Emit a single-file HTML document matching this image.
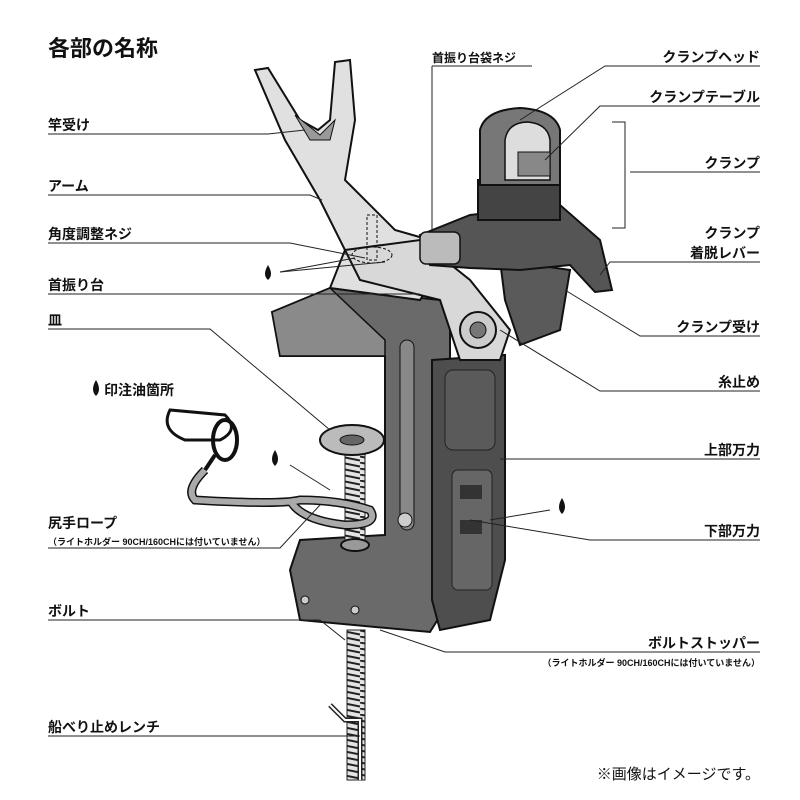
<!DOCTYPE html>
<html><head><meta charset="utf-8"><style>
body{margin:0;background:#fff;}
svg{display:block;}
text{font-family:"Liberation Sans","Noto Sans CJK JP",sans-serif;font-weight:bold;fill:#111;}
.l{font-size:14px;}
.s{font-size:9px;}
</style></head><body>
<svg width="800" height="800" viewBox="0 0 800 800" xmlns="http://www.w3.org/2000/svg">
<defs>
<pattern id="thr" width="20" height="6" patternUnits="userSpaceOnUse">
<rect width="20" height="6" fill="#e4e4e4"/><line x1="0" y1="0.5" x2="20" y2="4.5" stroke="#222" stroke-width="2"/>
</pattern>
</defs>
<text x="48" y="56" style="font-size:22px">各部の名称</text>

<!-- lower bolt -->
<rect x="347" y="630" width="18" height="150" fill="url(#thr)" stroke="#222"/>
<path d="M330 705 L345 720 L360 720 L360 780" fill="none" stroke="#222" stroke-width="5"/>
<path d="M330 705 L345 720 L360 720 L360 780" fill="none" stroke="#fff" stroke-width="2"/>

<!-- clamp body -->
<path d="M272 312 L330 288 L440 300 L450 320 L450 600 L430 632 L300 620 L290 570 L300 540 L385 535 L385 356 L280 356 Z" fill="#6a6a6a" stroke="#111" stroke-width="2"/>
<path d="M272 312 L330 288 L385 340 L385 356 L280 356 Z" fill="#8a8a8a" stroke="#111" stroke-width="1.5"/>
<rect x="400" y="340" width="14" height="190" rx="7" fill="#888" stroke="#111"/>
<circle cx="405" cy="520" r="7" fill="#ccc" stroke="#111"/>
<circle cx="305" cy="600" r="4" fill="#ccc" stroke="#111"/>
<circle cx="355" cy="610" r="4" fill="#ccc" stroke="#111"/>
<path d="M432 360 L505 355 L505 560 L490 620 L440 630 L432 600 Z" fill="#4e4e4e" stroke="#111" stroke-width="2"/>
<rect x="445" y="370" width="50" height="80" rx="8" fill="#5a5a5a" stroke="#222"/>
<rect x="452" y="470" width="40" height="120" rx="6" fill="#666" stroke="#222"/>
<rect x="460" y="485" width="22" height="14" fill="#333"/>
<rect x="460" y="520" width="22" height="14" fill="#333"/>

<!-- arm -->
<path d="M255 70 L268 68 L300 120 L318 130 L330 120 L335 62 L350 60 L355 120 L345 180 L395 230 L430 240 L440 270 L420 300 L330 288 L345 250 L320 200 L285 140 Z" fill="#e0e0e0" stroke="#111" stroke-width="2"/>
<path d="M295 115 L320 135 L335 120 L330 140 L310 140 Z" fill="#999" stroke="#111"/>
<path d="M345 250 L420 240 L470 280 L510 330 L500 360 L460 360 L440 300 L360 280 Z" fill="#d8d8d8" stroke="#111" stroke-width="2"/>
<circle cx="478" cy="330" r="18" fill="#ccc" stroke="#111" stroke-width="2"/>
<circle cx="478" cy="330" r="8" fill="#777" stroke="#111"/>
<ellipse cx="372" cy="255" rx="20" ry="8" fill="none" stroke="#111" stroke-dasharray="3,2"/>
<rect x="367" y="215" width="10" height="45" fill="none" stroke="#111" stroke-dasharray="3,2"/>

<!-- clamp receiver + head -->
<path d="M500 260 L570 270 L560 330 L520 345 L505 300 Z" fill="#5a5a5a" stroke="#111" stroke-width="2"/>
<path d="M420 235 L470 215 L560 205 L600 240 L612 290 L595 292 L570 265 L520 270 L470 268 L430 265 Z" fill="#555" stroke="#111" stroke-width="2"/>
<rect x="420" y="232" width="40" height="32" rx="6" fill="#bbb" stroke="#111" stroke-width="1.5"/>
<path d="M478 180 L560 180 L560 220 L478 220 Z" fill="#444" stroke="#111" stroke-width="2"/>
<path d="M480 185 L480 130 Q485 110 520 108 Q555 110 560 130 L560 185 Z" fill="#777" stroke="#111" stroke-width="2"/>
<path d="M505 180 L505 140 Q508 122 528 122 Q548 124 550 140 L550 180 Z" fill="#ddd" stroke="#111" stroke-width="1.5"/>
<rect x="518" y="152" width="32" height="24" fill="#888" stroke="#111"/>

<!-- top bolt & knob -->
<rect x="345" y="450" width="20" height="90" fill="url(#thr)" stroke="#222"/>
<ellipse cx="355" cy="545" rx="14" ry="6" fill="#999" stroke="#111" stroke-width="2"/>
<ellipse cx="352" cy="440" rx="32" ry="15" fill="#bbb" stroke="#111" stroke-width="2"/>
<ellipse cx="352" cy="440" rx="12" ry="5" fill="#666" stroke="#111"/>

<!-- rope -->
<path d="M205 470 Q185 490 195 500 Q280 505 300 500 Q340 500 370 510 Q380 525 345 525 Q300 520 290 500" fill="none" stroke="#111" stroke-width="9"/>
<path d="M205 470 Q185 490 195 500 Q280 505 300 500 Q340 500 370 510 Q380 525 345 525 Q300 520 290 500" fill="none" stroke="#aaa" stroke-width="6"/>
<path d="M170 410 Q160 430 185 440 L220 440 Q240 430 225 415 Z" fill="none" stroke="#111" stroke-width="3"/>
<ellipse cx="225" cy="440" rx="12" ry="20" fill="none" stroke="#111" stroke-width="4"/>
<line x1="215" y1="455" x2="205" y2="470" stroke="#111" stroke-width="4"/>

<!-- drops -->
<path d="M268 265 Q262 275 268 280 Q274 275 268 265Z" fill="#111"/>
<path d="M275 450 Q269 460 275 466 Q281 460 275 450Z" fill="#111"/>
<path d="M562 498 Q556 508 562 514 Q568 508 562 498Z" fill="#111"/>
<path d="M96 380 Q90 390 96 396 Q102 390 96 380Z" fill="#111"/>

<g stroke="#222" stroke-width="1" fill="none">
<polyline points="48,134 268,134 305,130"/>
<polyline points="48,195 310,195 322,200"/>
<polyline points="48,243 290,243 365,258"/>
<line x1="280" y1="272" x2="355" y2="258"/><line x1="280" y1="272" x2="385" y2="262"/>
<polyline points="48,294 420,294"/>
<polyline points="48,329 210,329 330,430"/>
<line x1="290" y1="465" x2="330" y2="490"/>
<polyline points="48,548 280,548 320,505"/>
<polyline points="48,620 320,620 345,640"/>
<polyline points="48,736 360,736"/>
<polyline points="432,66 532,66"/><line x1="432" y1="66" x2="432" y2="230"/>
<polyline points="760,66 605,66 520,120"/>
<polyline points="760,106 600,106 545,160"/>
<polyline points="760,172 630,172"/>
<polyline points="612,122 625,122 625,228 612,228"/>
<polyline points="760,262 610,262 600,275"/>
<polyline points="760,336 640,336 565,290"/>
<polyline points="760,391 600,391 500,330"/>
<polyline points="760,459 500,459"/>
<polyline points="760,540 590,540 470,520"/>
<line x1="550" y1="510" x2="490" y2="520"/>
<polyline points="760,652 445,652 380,630"/>
</g>

<text class="l" x="48" y="130">竿受け</text>
<text class="l" x="48" y="191">アーム</text>
<text class="l" x="48" y="239">角度調整ネジ</text>
<text class="l" x="48" y="290">首振り台</text>
<text class="l" x="48" y="325">皿</text>
<text class="l" x="104" y="395">印注油箇所</text>
<text class="l" x="48" y="528">尻手ロープ</text>
<text class="s" x="48" y="545">（ライトホルダー 90CH/160CHには付いていません）</text>
<text class="l" x="48" y="616">ボルト</text>
<text class="l" x="48" y="732">船べり止めレンチ</text>
<text x="432" y="62" style="font-size:12px">首振り台袋ネジ</text>
<g text-anchor="end">
<text class="l" x="760" y="62">クランプヘッド</text>
<text class="l" x="760" y="102">クランプテーブル</text>
<text class="l" x="760" y="168">クランプ</text>
<text class="l" x="760" y="238">クランプ</text>
<text class="l" x="760" y="258">着脱レバー</text>
<text class="l" x="760" y="332">クランプ受け</text>
<text class="l" x="760" y="387">糸止め</text>
<text class="l" x="760" y="455">上部万力</text>
<text class="l" x="760" y="536">下部万力</text>
<text class="l" x="760" y="648">ボルトストッパー</text>
<text class="s" x="760" y="666">（ライトホルダー 90CH/160CHには付いていません）</text>
<text x="760" y="779" style="font-size:15px;font-weight:normal">※画像はイメージです。</text>
</g>
</svg>
</body></html>
